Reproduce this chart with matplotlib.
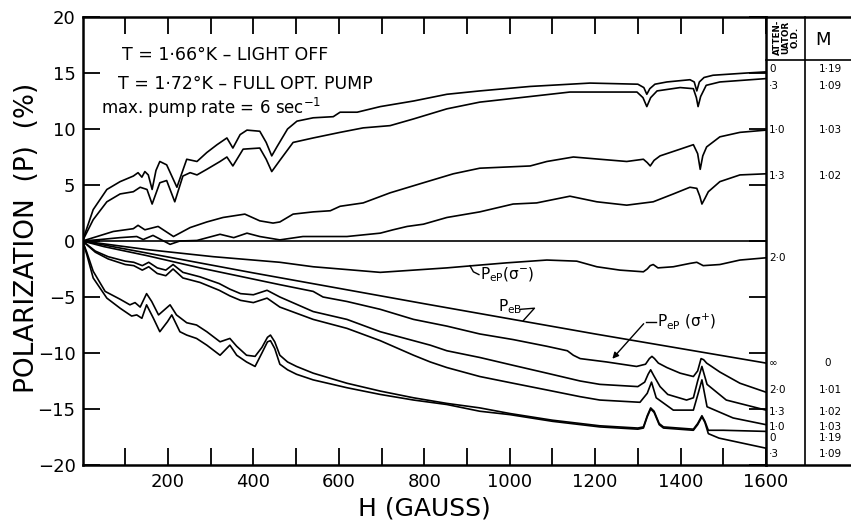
import matplotlib
matplotlib.use('Agg')
import matplotlib.pyplot as plt
from matplotlib.lines import Line2D

plt.rcParams['font.family'] = ['DejaVu Sans']
plt.rcParams['mathtext.fontset'] = 'dejavusans'

# ---------------- data (H in gauss, P in %) ----------------
# upper family (positive polarization)
h_up_od0 = [0, 25, 57, 88, 119, 130, 139, 146, 154, 163, 172, 181, 197, 221, 244, 268, 291, 315, 338, 352, 369, 385, 415,
            430, 443, 455, 480, 502, 540, 587, 603, 643, 697, 775, 853, 930, 1048, 1188, 1300, 1314, 1321, 1328, 1340, 1368,
            1422, 1432, 1438, 1444, 1455, 1476, 1555, 1600]
p_up_od0 = [0, 2.8, 4.6, 5.3, 5.8, 6.1, 5.7, 6.2, 5.9, 4.6, 6.3, 7.1, 6.8, 4.8, 7.3, 7.1, 7.9, 8.6, 9.2, 8.3, 9.5, 9.9, 9.8,
            8.8, 7.6, 8.4, 10.0, 10.7, 11.0, 11.1, 11.5, 11.5, 12.0, 12.5, 13.1, 13.4, 13.8, 14.1, 14.0, 13.7, 13.1, 13.6, 14.0, 14.2,
            14.4, 14.2, 13.4, 14.2, 14.6, 14.8, 15.0, 15.1]

h_up_od3 = [0, 25, 57, 88, 119, 135, 151, 163, 181, 197, 216, 235, 252, 268, 291, 322, 338, 352, 376, 415, 430, 443, 462,
            493, 540, 603, 657, 720, 775, 853, 930, 1048, 1141, 1298, 1312, 1321, 1330, 1345, 1399, 1430, 1437, 1441, 1447, 1460,
            1492, 1600]
p_up_od3 = [0, 1.9, 3.5, 4.2, 4.4, 4.8, 4.6, 3.3, 5.2, 5.4, 3.5, 5.8, 6.1, 5.9, 6.4, 7.1, 7.5, 6.7, 8.2, 8.3, 7.3, 6.2, 7.2,
            8.8, 9.2, 9.7, 10.1, 10.3, 10.9, 11.8, 12.4, 12.9, 13.3, 13.3, 12.8, 12.0, 12.8, 13.4, 13.7, 13.6, 12.8, 12.0, 12.9, 13.9,
            14.2, 14.5]

h_up_od10 = [0, 34, 72, 119, 130, 146, 177, 213, 252, 291, 329, 380, 415, 446, 462, 493, 540, 580, 603, 657, 720, 798, 868,
             930, 1048, 1087, 1149, 1211, 1274, 1313, 1322, 1329, 1338, 1352, 1399, 1430, 1440, 1446, 1452, 1461, 1492, 1539, 1600]
p_up_od10 = [0, 0.4, 0.85, 1.1, 1.4, 1.0, 1.3, 0.4, 1.2, 1.7, 2.1, 2.4, 1.8, 1.6, 1.7, 2.4, 2.6, 2.7, 3.1, 3.4, 4.3, 5.2, 6.0,
             6.5, 6.7, 7.1, 7.5, 7.3, 7.1, 7.3, 7.0, 6.7, 7.2, 7.6, 8.2, 8.6, 7.8, 6.4, 7.6, 8.4, 9.3, 9.7, 9.9]

h_up_od13 = [0, 41, 88, 127, 142, 165, 205, 228, 268, 322, 354, 385, 415, 462, 516, 619, 697, 727, 760, 798, 853, 930, 1008,
             1063, 1141, 1204, 1274, 1336, 1383, 1422, 1438, 1445, 1450, 1457, 1465, 1492, 1539, 1600]
p_up_od13 = [0, 0.13, 0.3, 0.4, 0.13, 0.5, -0.3, 0.0, 0.05, 0.6, 0.3, 0.7, 0.4, 0.1, 0.4, 0.4, 0.7, 1.0, 1.3, 1.5, 2.1, 2.6, 3.3,
             3.4, 4.0, 3.5, 3.2, 3.5, 4.2, 4.8, 4.7, 4.0, 3.3, 3.8, 4.4, 5.3, 5.9, 6.0]

# P_eP(sigma-) , attenuator 2.0
h_sigm = [0, 150, 306, 462, 540, 619, 697, 775, 853, 930, 993, 1087, 1157, 1204, 1258, 1313, 1322, 1329, 1336, 1347, 1383,
          1422, 1438, 1453, 1492, 1539, 1600]
p_sigm = [0, -0.76, -1.4, -1.9, -2.3, -2.55, -2.8, -2.6, -2.4, -2.15, -1.95, -1.7, -1.8, -2.3, -2.6, -2.75, -2.5, -2.2, -2.1,
          -2.4, -2.3, -2.0, -1.9, -2.2, -2.1, -1.7, -1.5]

# P_eB (no pumping)
h_peb = [0, 400, 800, 1200, 1600]
p_peb = [0, -2.85, -5.6, -8.3, -10.9]

# lower family P_eP(sigma+)
h_lo_od20 = [0, 50, 150, 275, 462, 540, 563, 619, 697, 775, 853, 930, 1008, 1087, 1135, 1149, 1165, 1227, 1297, 1318, 1327,
             1333, 1339, 1348, 1368, 1399, 1430, 1440, 1448, 1454, 1461, 1492, 1539, 1600]
p_lo_od20 = [0, -0.5, -1.3, -2.4, -3.9, -4.5, -5.0, -5.4, -6.1, -7.0, -7.6, -8.3, -8.8, -9.4, -9.8, -10.2, -10.5, -10.8, -11.2,
             -11.0, -10.5, -10.3, -10.5, -10.9, -11.3, -11.8, -12.1, -11.6, -10.5, -10.6, -10.9, -11.7, -12.7, -13.5]

h_lo_od13 = [0, 30, 60, 100, 120, 140, 155, 175, 195, 212, 235, 275, 320, 345, 370, 400, 432, 462, 540, 619, 697, 775, 814,
             853, 930, 1008, 1087, 1165, 1211, 1300, 1316, 1324, 1330, 1337, 1352, 1370, 1414, 1430, 1440, 1450, 1462, 1507, 1600]
p_lo_od13 = [0, -0.9, -1.4, -1.8, -1.9, -2.2, -1.9, -2.4, -2.6, -2.1, -2.8, -3.2, -3.8, -4.3, -4.7, -4.8, -4.4, -5.0, -6.3,
             -7.0, -8.1, -8.9, -9.3, -9.8, -10.4, -11.1, -11.8, -12.5, -12.8, -13.0, -12.6, -11.9, -11.5, -12.0, -13.0, -13.7,
             -14.2, -14.0, -12.5, -11.2, -12.8, -14.2, -15.1]

h_lo_od10 = [0, 30, 60, 100, 120, 140, 155, 175, 195, 212, 235, 275, 320, 345, 370, 400, 432, 462, 540, 619, 697, 775, 814,
             853, 930, 1008, 1087, 1165, 1211, 1305, 1322, 1332, 1343, 1383, 1430, 1442, 1450, 1462, 1523, 1600]
p_lo_od10 = [0, -1.0, -1.6, -2.1, -2.2, -2.6, -2.3, -2.9, -3.1, -2.5, -3.3, -3.7, -4.4, -4.9, -5.3, -5.5, -5.1, -5.9, -7.0,
             -7.8, -8.9, -10.2, -10.8, -11.3, -12.1, -12.7, -13.3, -13.9, -14.2, -14.4, -13.6, -12.6, -14.0, -15.1, -15.1,
             -13.5, -12.4, -14.8, -15.8, -16.4]

h_lo_od0 = [0, 10, 25, 53, 88, 111, 123, 135, 150, 162, 178, 193, 205, 220, 244, 267, 291, 322, 345, 361, 384, 404, 420, 433,
            440, 450, 462, 480, 501, 540, 619, 697, 775, 853, 930, 1000, 1100, 1211, 1300, 1313, 1322, 1330, 1338, 1350, 1360,
            1430, 1440, 1450, 1457, 1465, 1500, 1600]
p_lo_od0 = [0, -1.0, -2.7, -4.5, -5.2, -5.7, -5.5, -5.9, -4.7, -5.4, -6.6, -6.1, -5.7, -6.6, -7.3, -7.5, -8.1, -9.0, -8.7, -9.4,
            -10.2, -10.3, -9.5, -8.6, -8.4, -9.0, -10.2, -10.8, -11.2, -11.8, -12.7, -13.4, -14.0, -14.5, -14.9, -15.4, -16.0,
            -16.5, -16.7, -16.6, -15.6, -14.9, -15.2, -16.3, -16.6, -16.8, -16.3, -15.6, -16.1, -16.9, -16.9, -17.0]

h_lo_od3 = [0, 10, 25, 57, 88, 115, 127, 139, 150, 166, 181, 199, 209, 228, 244, 267, 291, 322, 345, 361, 384, 404, 420, 433,
            440, 450, 462, 480, 501, 540, 619, 697, 775, 853, 930, 1000, 1100, 1211, 1300, 1313, 1322, 1330, 1338, 1350, 1360,
            1430, 1440, 1450, 1457, 1465, 1490, 1600]
p_lo_od3 = [0, -1.2, -3.3, -5.1, -6.0, -6.7, -6.6, -6.9, -5.7, -6.9, -8.1, -7.2, -6.6, -8.1, -8.4, -8.7, -9.3, -10.2, -9.3,
            -10.2, -10.8, -11.2, -10.0, -9.0, -8.9, -9.6, -11.0, -11.5, -11.9, -12.4, -13.1, -13.7, -14.2, -14.6, -15.2, -15.5,
            -16.1, -16.6, -16.8, -16.7, -15.7, -15.0, -15.3, -16.4, -16.7, -16.9, -16.4, -15.7, -16.2, -17.2, -17.6, -18.5]

# right-hand table
od_upper = ['0', '·3', '1·0', '1·3', '2·0']
m_upper = ['1·19', '1·09', '1·03', '1·02', '']
od_lower = ['∞', '2·0', '1·3', '1·0', '0', '·3']
m_lower = ['0', '1·01', '1·02', '1·03', '1·19', '1·09']

x_ticks = list(range(100, 1700, 100))
x_ticklabels = [str(v) if v % 200 == 0 else '' for v in x_ticks]
y_ticks = [-20, -15, -10, -5, 0, 5, 10, 15, 20]
y_ticklabels = ['−20', '−15', '−10', '−5', '0', '5', '10', '15', '20']

# ---------------- figure ----------------
W, H = 851, 521
fig = plt.figure(figsize=(W / 100, H / 100), dpi=100)


def fx(x):
    return x / W


def fy(y):
    return 1 - y / H


L, R, T, B = 82.5, 766, 17, 465
ax = fig.add_axes([fx(L), fy(B), (R - L) / W, (B - T) / H])
ax.set_xlim(0, 1600)
ax.set_ylim(-20, 20)

lw = 1.2
ax.axhline(0, color='black', lw=lw)
for hh, pp in [(h_up_od0, p_up_od0), (h_up_od3, p_up_od3), (h_up_od10, p_up_od10), (h_up_od13, p_up_od13),
               (h_sigm, p_sigm), (h_peb, p_peb), (h_lo_od20, p_lo_od20), (h_lo_od13, p_lo_od13),
               (h_lo_od10, p_lo_od10), (h_lo_od0, p_lo_od0), (h_lo_od3, p_lo_od3)]:
    ax.plot(hh, pp, color='black', lw=lw, solid_joinstyle='round')

for s in ax.spines.values():
    s.set_linewidth(1.8)

ax.set_xticks(x_ticks)
ax.set_xticklabels(x_ticklabels)
ax.set_yticks(y_ticks)
ax.set_yticklabels(y_ticklabels)
ax.tick_params(axis='both', direction='in', length=12, width=1.3, top=True, right=True, labelsize=13, colors='black')
ax.tick_params(axis='x', pad=6)
ax.tick_params(axis='y', pad=5)

ax.set_xlabel('H (GAUSS)', fontsize=18, labelpad=4)
fig.text(fx(27), fy(238), 'POLARIZATION  (P)  (%)', rotation=90, fontsize=19, ha='center', va='center')

# header text
fig.text(fx(122), fy(55), 'T = 1·66°K – LIGHT OFF', fontsize=12.5, va='center')
fig.text(fx(118), fy(84), 'T = 1·72°K – FULL OPT. PUMP', fontsize=12.5, va='center')
fig.text(fx(101), fy(108), 'max. pump rate = 6 sec$^{-1}$', fontsize=12, va='center')

# curve labels
ax.text(930, -3.0, r'P$_{\rm eP}$(σ$^{-}$)', fontsize=11, va='center', ha='left')
ax.plot([907, 915, 928], [-2.2, -2.75, -3.0], color='black', lw=1.0)
ax.text(972, -5.9, r'P$_{\rm eB}$', fontsize=11, va='center', ha='left')
ax.plot([1025, 1058, 1032], [-6.1, -6.0, -7.1], color='black', lw=1.0)
ax.text(1345, -7.2, r'P$_{\rm eP}$ (σ$^{+}$)', fontsize=11, va='center', ha='left')
ax.annotate('', xy=(1236, -10.7), xytext=(1318, -7.2),
            arrowprops=dict(arrowstyle='-|>', color='black', lw=1.0, mutation_scale=9))
ax.plot([1318, 1343], [-7.2, -7.2], color='black', lw=1.0)

# right-hand table frame
for (x0, y0, x1, y1, w) in [(R, T, W, T, 1.8), (R, B, W, B, 1.8), (R, 60, W, 60, 1.2), (805, T, 805, B, 1.2)]:
    fig.add_artist(Line2D([fx(x0), fx(x1)], [fy(y0), fy(y1)], color='black', lw=w))

fig.text(fx(786), fy(37), 'ATTEN-\nUATOR\nO.D.', rotation=90, fontsize=6.3, ha='center', va='center',
         linespacing=0.95, fontweight='bold')
fig.text(fx(823), fy(40), 'M', fontsize=13, ha='center', va='center')

up_y = [69, 86, 130, 176, 258]
lo_y = [363, 390, 412, 427, 438, 454]
for lab, m, yy in zip(od_upper, m_upper, up_y):
    fig.text(fx(769), fy(yy), lab, fontsize=7.5, va='center', ha='left')
    fig.text(fx(819), fy(yy), m, fontsize=7.5, va='center', ha='left')
for lab, m, yy in zip(od_lower, m_lower, lo_y):
    fig.text(fx(769), fy(yy), lab, fontsize=7.5, va='center', ha='left')
    fig.text(fx(819) if m != '0' else fx(824), fy(yy), m, fontsize=7.5, va='center', ha='left')

fig.savefig('out.png', dpi=100)
